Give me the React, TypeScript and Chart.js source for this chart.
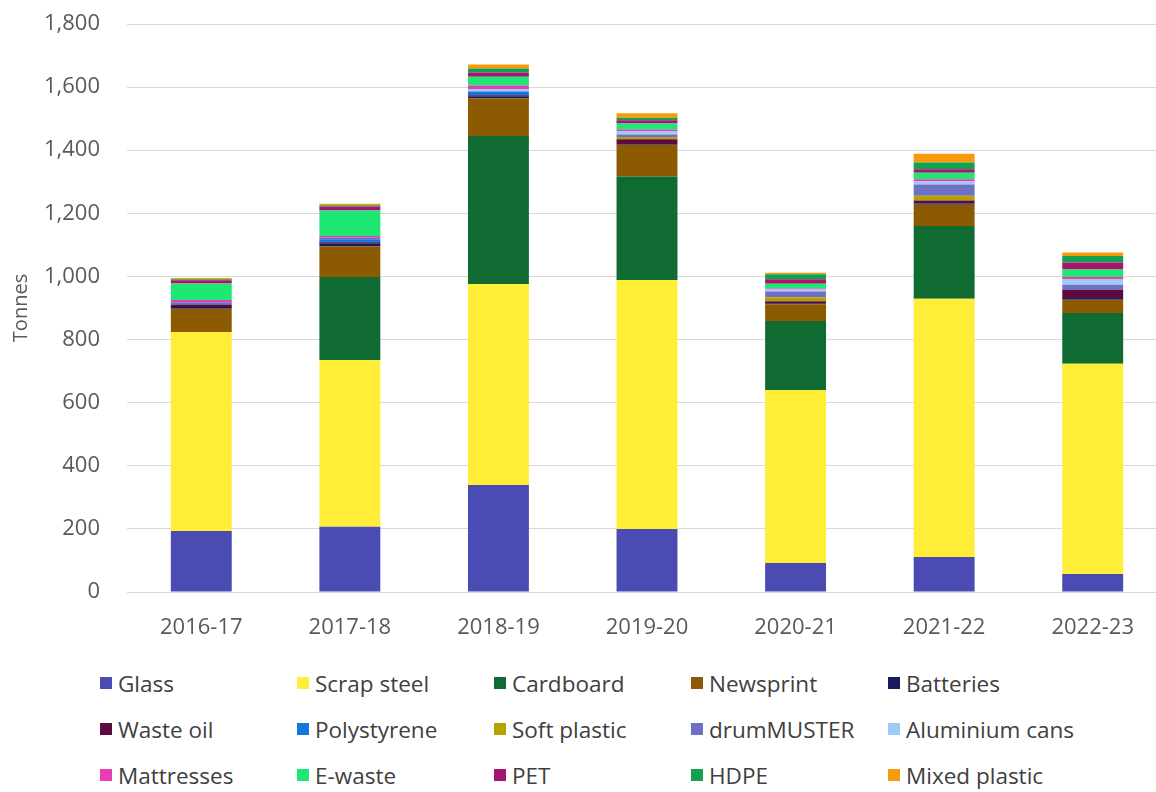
import React, { useEffect, useRef } from "react";
import { Chart, registerables } from "chart.js";

Chart.register(...registerables);

const categories = ["2016-17", "2017-18", "2018-19", "2019-20", "2020-21", "2021-22", "2022-23"];

const glass = [193, 207, 339, 200, 92, 111, 57];
const scrapSteel = [631, 528, 637, 789, 548, 818, 666];
const cardboard = [0, 263, 469, 328, 219, 231, 161];
const newsprint = [74, 97, 120, 100, 53, 67, 42];
const batteries = [8, 10, 6, 3, 3, 4, 6];
const wasteOil = [5, 3, 3, 15, 6, 10, 26];
const polystyrene = [0, 10, 12, 0, 0, 0, 0];
const softPlastic = [0, 0, 0, 7, 13, 15, 0];
const drumMuster = [7, 5, 0, 8, 18, 35, 16];
const aluminiumCans = [0, 0, 8, 11, 7, 10, 16];
const mattresses = [7, 5, 11, 5, 3, 7, 8];
const eWaste = [53, 81, 28, 19, 15, 21, 24];
const pet = [10, 13, 13, 10, 14, 11, 22];
const hdpe = [3, 4, 13, 8, 16, 21, 21];
const mixedPlastic = [4, 4, 13, 14, 5, 28, 11];

const seriesNames = [
  "Glass", "Scrap steel", "Cardboard", "Newsprint", "Batteries",
  "Waste oil", "Polystyrene", "Soft plastic", "drumMUSTER", "Aluminium cans",
  "Mattresses", "E-waste", "PET", "HDPE", "Mixed plastic",
];
const seriesValues = [
  glass, scrapSteel, cardboard, newsprint, batteries,
  wasteOil, polystyrene, softPlastic, drumMuster, aluminiumCans,
  mattresses, eWaste, pet, hdpe, mixedPlastic,
];
const seriesColors = [
  "#4B4BB4", "#FFED38", "#0F6B32", "#8C5A00", "#1C1A5E",
  "#5C0B3F", "#1377DD", "#B5A300", "#6F6FC4", "#9ECBF5",
  "#EA3CB4", "#1EE873", "#A5166E", "#12A14E", "#F99A0C",
];

const yMin = 0;
const yMax = 1800;
const yStep = 200;
const yTitle = "Tonnes";

export default function App() {
  const canvasRef = useRef<HTMLCanvasElement>(null);

  useEffect(() => {
    if (!canvasRef.current) return;
    const chart = new Chart(canvasRef.current, {
      type: "bar",
      data: {
        labels: categories,
        datasets: seriesNames.map((name, i) => ({
          label: name,
          data: seriesValues[i],
          backgroundColor: seriesColors[i],
          borderWidth: 0,
          barPercentage: 0.41,
          categoryPercentage: 1,
        })),
      },
      options: {
        animation: false,
        responsive: false,
        devicePixelRatio: 1,
        layout: { padding: { top: 24, right: 1, left: 0, bottom: 0 } },
        plugins: {
          legend: { display: false },
          tooltip: { enabled: false },
        },
        scales: {
          x: {
            stacked: true,
            grid: { display: false, drawTicks: false },
            border: { display: true, color: "#D9D9D9", width: 1 },
            ticks: {
              color: "#595959",
              font: { family: "'Open Sans', sans-serif", size: 22 },
              padding: 23,
              maxRotation: 0,
            },
            afterFit: (scale: any) => {
              scale.height = 58;
              scale.paddingTop = 0;
            },
          },
          y: {
            stacked: true,
            min: yMin,
            max: yMax,
            grid: { color: "#D9D9D9", lineWidth: 1, drawTicks: false },
            border: { display: false },
            ticks: {
              stepSize: yStep,
              color: "#595959",
              font: { family: "'Open Sans', sans-serif", size: 22 },
              padding: 27,
              callback: (v: any) => Number(v).toLocaleString("en-US"),
            },
            title: {
              display: true,
              text: yTitle,
              color: "#595959",
              font: { family: "'Open Sans', sans-serif", size: 20, weight: "normal" },
              padding: { top: 9, bottom: 0 },
            },
            afterFit: (scale: any) => {
              scale.width = 127;
              scale.paddingTop = 0;
            },
          },
        },
      },
    });
    return () => chart.destroy();
  }, []);

  return (
    <div
      style={{
        position: "fixed",
        left: 0,
        top: 0,
        width: 1156,
        height: 792,
        overflow: "hidden",
        background: "#ffffff",
      }}
    >
      <canvas
        ref={canvasRef}
        width={1168}
        height={650}
        style={{ position: "absolute", left: 0, top: 0, width: 1168, height: 650 }}
      />
      {seriesNames.map((name, i) => {
        const col = i % 5;
        const row = Math.floor(i / 5);
        return (
          <div
            key={name}
            style={{
              position: "absolute",
              left: 100 + col * 197,
              top: 683 + row * 46 - 15,
              height: 30,
              display: "flex",
              alignItems: "center",
              fontFamily: "'Open Sans', sans-serif",
              fontSize: 22.5,
              color: "#404040",
              whiteSpace: "nowrap",
            }}
          >
            <span
              style={{
                display: "inline-block",
                width: 12,
                height: 12,
                background: seriesColors[i],
                marginRight: 6,
              }}
            />
            <span>{name}</span>
          </div>
        );
      })}
    </div>
  );
}
